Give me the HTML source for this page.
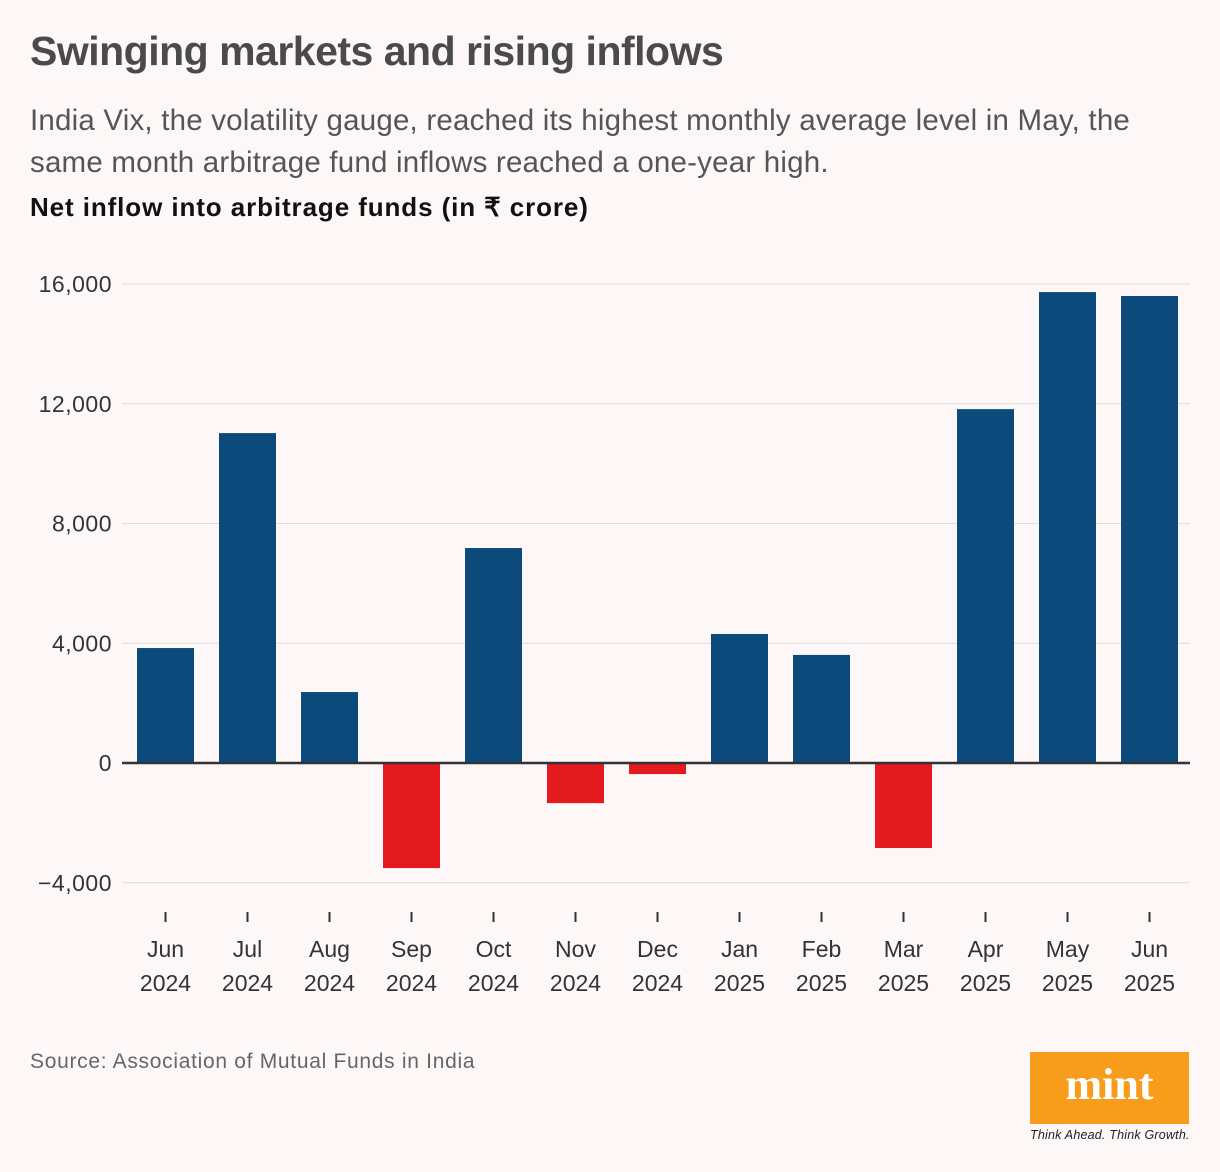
<!DOCTYPE html>
<html><head><meta charset="utf-8"><style>
body{margin:0;width:1220px;height:1172px;background:#fdf8f7;font-family:"Liberation Sans",sans-serif;position:relative;overflow:hidden}
.t{position:absolute;white-space:nowrap}
</style></head><body>
<div class="t" style="left:30px;top:28px;font-size:41px;font-weight:bold;color:#4a4a4a;letter-spacing:-0.5px">Swinging markets and rising inflows</div>
<div class="t" style="left:30px;top:100px;font-size:29.5px;color:#555;line-height:42px;letter-spacing:0.2px">India Vix, the volatility gauge, reached its highest monthly average level in May, the<br>same month arbitrage fund inflows reached a one-year high.</div>
<div class="t" style="left:30px;top:192px;font-size:26px;font-weight:bold;color:#111;letter-spacing:0.9px">Net inflow into arbitrage funds (in ₹ crore)</div>
<svg id="c" width="1220" height="1172" style="position:absolute;left:0;top:0"></svg>
<div class="t" style="left:30px;top:1050px;font-size:21px;color:#666;letter-spacing:0.7px">Source: Association of Mutual Funds in India</div>
<div style="position:absolute;left:1030px;top:1052px;width:159px;height:72px;background:#f89c1c;color:#fff;font-family:'Liberation Serif',serif;font-weight:bold;font-size:44px;text-align:center;line-height:66px">mint</div>
<div class="t" style="left:1030px;top:1128px;font-size:12.5px;font-style:italic;color:#222;letter-spacing:0.2px">Think Ahead. Think Growth.</div>
<script>
const months=["Jun","Jul","Aug","Sep","Oct","Nov","Dec","Jan","Feb","Mar","Apr","May","Jun"];
const years=["2024","2024","2024","2024","2024","2024","2024","2025","2025","2025","2025","2025","2025"];
const values=[3840,11020,2370,-3510,7180,-1340,-370,4310,3610,-2840,11820,15730,15600];
const ticks=[-4000,0,4000,8000,12000,16000];
const tickLabels=["\u22124,000","0","4,000","8,000","12,000","16,000"];
const svg=document.getElementById('c');const NS="http://www.w3.org/2000/svg";
const y=v=>763-v*(479/16000);
const x=i=>165.5+82*i;
function mk(t,a){const e=document.createElementNS(NS,t);for(const k in a)e.setAttribute(k,a[k]);svg.appendChild(e);return e;}
ticks.forEach((t,i)=>{
 if(t!==0){const g=mk('line',{x1:122,x2:1190,y1:y(t),y2:y(t),stroke:'#e2dcda','stroke-width':1});
 
 }
 const l=mk('text',{x:112,y:y(t)+8,'text-anchor':'end','font-size':23,fill:'#333','font-family':'Liberation Sans, sans-serif','letter-spacing':0.5});
 l.textContent=tickLabels[i];
 
 
});
values.forEach((v,i)=>{
 const r=mk('rect',{x:x(i)-28.5,width:57,y:Math.min(y(v),y(0)),height:Math.abs(y(v)-y(0)),fill:v>=0?'#0b4a7a':'#e31b1f'});
 
 
 const tk=mk('line',{x1:x(i),x2:x(i),y1:912,y2:922,stroke:'#333','stroke-width':2});
 
 
 const t=mk('text',{x:x(i),y:957,'text-anchor':'middle','font-size':23,fill:'#333','font-family':'Liberation Sans, sans-serif'});
 t.textContent=months[i];
 
 
 const t2=mk('text',{x:x(i),y:991,'text-anchor':'middle','font-size':23,fill:'#333','font-family':'Liberation Sans, sans-serif'});
 t2.textContent=years[i];
 
 
});
const z=mk('line',{x1:122,x2:1190,y1:y(0),y2:y(0),stroke:'#333','stroke-width':2.5});


</script>
</body></html>
